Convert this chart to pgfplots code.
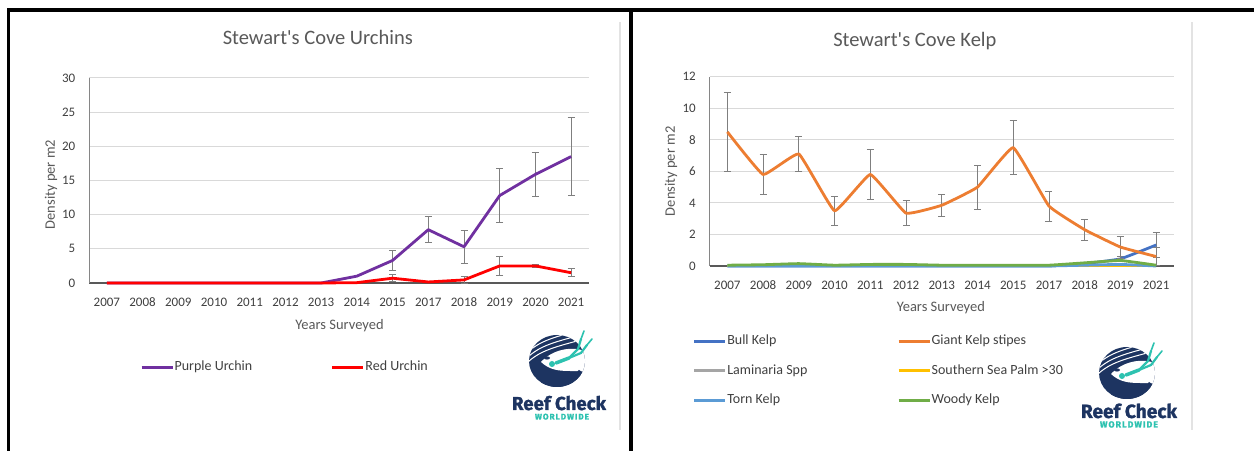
\documentclass[border=0pt]{standalone}
\usepackage{fontspec}
\setmainfont{Carlito}[Ligatures=TeXOff]
\newfontfamily\logofont{Fira Sans}[BoldFeatures={FakeBold=1.3}]
\usepackage{pgfplots}
\usepackage{pgfplotstable}
\pgfplotsset{compat=1.18}

\definecolor{purpleU}{HTML}{7030A0}
\definecolor{redU}{HTML}{FF0000}
\definecolor{bullK}{HTML}{4472C4}
\definecolor{giantK}{HTML}{ED7D31}
\definecolor{lamK}{HTML}{A5A5A5}
\definecolor{palmK}{HTML}{FFC000}
\definecolor{tornK}{HTML}{5B9BD5}
\definecolor{woodyK}{HTML}{70AD47}
\definecolor{errgray}{HTML}{7F7F7F}
\definecolor{gridgray}{HTML}{D9D9D9}
\definecolor{axisgray}{HTML}{868686}
\definecolor{xaxisgray}{HTML}{595959}
\definecolor{txtgray}{HTML}{595959}
\definecolor{tickgray}{HTML}{404040}
\definecolor{faint}{HTML}{E3E3E3}
\definecolor{rcnavy}{HTML}{1D3461}
\definecolor{rcteal}{HTML}{2DC2B0}

% Urchin densities per survey year (idx = category position)
\pgfplotstableread{
idx year purple red
0  2007 0    0
1  2008 0    0
2  2009 0    0
3  2010 0    0
4  2011 0    0
5  2012 0    0
6  2013 0    0
7  2014 1.0  0.05
8  2015 3.3  0.7
9  2017 7.8  0.15
10 2018 5.3  0.45
11 2019 12.8 2.5
12 2020 15.9 2.5
13 2021 18.5 1.5
}\urchins

\pgfplotstableread{
idx val err
8  3.3  1.4
9  7.8  1.9
10 5.3  2.4
11 12.8 4.0
12 15.9 3.2
13 18.5 5.7
}\purpleerr

\pgfplotstableread{
idx val err
8  0.7  0.5
10 0.45 0.55
11 2.5  1.35
12 2.5  0.2
13 1.5  0.6
}\rederr

% Kelp densities per survey year
\pgfplotstableread{
idx year bull giant lam palm torn woody
0  2007 0    8.5  0 0 0    0.05
1  2008 0    5.8  0 0 0    0.08
2  2009 0    7.1  0 0 0    0.15
3  2010 0    3.5  0 0 0    0.05
4  2011 0    5.8  0 0 0    0.1
5  2012 0    3.35 0 0 0    0.1
6  2013 0    3.85 0 0 0    0.05
7  2014 0    5.0  0 0 0    0.05
8  2015 0    7.5  0 0 0    0.05
9  2017 0    3.8  0 0 0    0.05
10 2018 0.15 2.3  0 0 0.05 0.2
11 2019 0.45 1.2  0 0 0.1  0.35
12 2021 1.33 0.6  0 0 0    0.05
}\kelp

\pgfplotstableread{
idx val err
0  8.5  2.5
1  5.8  1.25
2  7.1  1.1
3  3.5  0.9
4  5.8  1.6
5  3.35 0.8
6  3.85 0.7
7  5.0  1.4
8  7.5  1.7
9  3.8  0.95
10 2.3  0.65
11 1.2  0.7
12 0.6  0.55
}\gianterr

\pgfplotstableread{
idx val err
11 0.45 0.15
12 1.33 0.8
}\bullerr

\newcommand{\tickfont}{\fontsize{13bp}{15bp}\selectfont}
\newcommand{\labfont}{\fontsize{14.5bp}{17bp}\selectfont}
\newcommand{\titfont}{\fontsize{20.5bp}{24bp}\selectfont}
\newcommand{\legfont}{\fontsize{14bp}{16bp}\selectfont}

\pgfplotsset{
  rcchart/.style={
    scale only axis, anchor=south west, clip=false,
    axis x line*=bottom, axis y line*=left,
    x axis line style={draw=xaxisgray, line width=1.3bp},
    y axis line style={draw=axisgray, line width=1bp},
    major tick length=0pt,
    ymajorgrids, major grid style={draw=gridgray, line width=1bp},
    tick label style={font=\tickfont, text=tickgray},
    xticklabel style={anchor=base, inner sep=0pt, yshift=-24bp},
    yticklabel style={anchor=east, inner sep=0pt, xshift=-13.5bp},
    /pgf/number format/assume math mode=true,
    label style={font=\labfont, text=txtgray},
    xlabel style={anchor=base},
    ylabel style={anchor=center},
    title style={font=\titfont, text=txtgray, anchor=base},
    legend columns=2, legend cell align=left,
    legend style={draw=none, fill=none, inner sep=0pt, outer sep=0pt,
      anchor=west, font=\legfont, text=tickgray,
      nodes={inner xsep=0.6bp, inner ysep=0pt, text height=10bp, text depth=3bp},
      row sep=16.5bp},
    legend image code/.code={\draw[#1, line width=3bp] (0bp,0bp) -- (31bp,0bp);},
    every axis plot/.append style={line width=2.8bp, line join=round},
  },
  errstyle/.style={draw=none, forget plot,
    error bars/.cd, y dir=both, y explicit,
    error bar style={draw=errgray, line width=0.9bp, solid},
    error mark options={draw=errgray, rotate=90, mark size=3.5bp, line width=0.9bp}},
  kelpline/.style={smooth, tension=0.18},
}

% Reef Check emblem: reef disc with the diver
\tikzset{
  rcemblem/.pic={
    \begin{scope}
      \clip (0,0) ellipse [x radius=28, y radius=26];
      \fill[rcnavy] (-30,-30) rectangle (30,30);
      \fill[white] (-16,-1) .. controls (-5,11) and (14,16) .. (31,9)
        -- (31,-12) .. controls (16,-7) and (-1,-15) .. (-16,-1) -- cycle;
      \foreach \s in {0,5,10}{
        \draw[white, line width=1bp] (-30,{\s-2}) .. controls (-18,{\s+10}) and (-2,{\s+14}) .. (20,{\s+20});
      }
      \fill[rcnavy] (-16,-30) -- (-16,-14) -- (-13,-11) -- (-11,-16) -- (-6,-12)
        -- (-3,-18) -- (3,-13) -- (7,-17) -- (12,-10) -- (16,-15) -- (22,-9)
        -- (30,-14) -- (30,-30) -- cycle;
    \end{scope}
    \fill[rcteal] (-5,-3) circle (3);
    \draw[rcteal, line width=3.5bp, line cap=round] (-1,-2) -- (12,3);
    \draw[rcteal, line width=2.2bp, line cap=round, line join=round] (12,3) -- (21,12) -- (24,22);
    \draw[rcteal, line width=2.2bp, line cap=round, line join=round] (12,3) -- (24,8) -- (30,16);
    \draw[rcteal, line width=1.6bp, line cap=round] (24,22) -- (27,30) (30,16) -- (35,22);
    \fill[rcnavy] (-10,3) ellipse [x radius=3, y radius=1.6];
  }
}

\begin{document}
\begin{tikzpicture}
\begin{scope}[x=1bp,y=1bp]
  \path[use as bounding box] (0,0) rectangle (1254,451);
  \fill[white] (0,0) rectangle (1254,451);
  % chart-area edges
  \draw[faint, line width=1.2bp] (620,21) -- (620,429);
  \draw[faint, line width=1.2bp] (1192,21) -- (1192,429);
  % panel frame
  \draw[line width=3.3bp] (8.3,0) -- (8.3,441) -- (1254,441);
  \draw[line width=3.3bp] (631,0) -- (631,441);
\end{scope}

% ---------------- Urchins ----------------
\begin{axis}[rcchart,
  at={(89bp,168bp)}, width=500bp, height=205bp,
  xmin=-0.5, xmax=13.5, ymin=0, ymax=30,
  xtick={0,...,13},
  xticklabels={2007,2008,2009,2010,2011,2012,2013,2014,2015,2017,2018,2019,2020,2021},
  ytick={0,5,...,30},
  title={Stewart's Cove Urchins},
  xlabel={Years Surveyed}, ylabel={Density per m2},
  title style={at={(axis description cs:0.4576,1.132)}},
  xlabel style={at={(axis description cs:0.501,-0.226)}},
  ylabel style={at={(axis description cs:-0.076,0.48)}},
  legend style={at={(axis description cs:0.102,-0.41)},
    /tikz/every even column/.append style={column sep=78bp}},
]
\addplot[errstyle] table[x=idx, y=val, y error=err] {\purpleerr};
\addplot[color=purpleU] table[x=idx, y=purple] {\urchins};
\addlegendentry{Purple Urchin}
\addplot[errstyle] table[x=idx, y=val, y error=err] {\rederr};
\addplot[color=redU] table[x=idx, y=red] {\urchins};
\addlegendentry{Red Urchin}
\end{axis}

% ---------------- Kelp ----------------
\begin{axis}[rcchart,
  at={(709.5bp,185bp)}, width=464.5bp, height=189.3bp,
  xmin=-0.5, xmax=12.5, ymin=0, ymax=12,
  xtick={0,...,12},
  xticklabels={2007,2008,2009,2010,2011,2012,2013,2014,2015,2017,2018,2019,2021},
  ytick={0,2,...,12},
  title={Stewart's Cove Kelp},
  xlabel={Years Surveyed}, ylabel={Density per m2},
  title style={at={(axis description cs:0.442,1.13)}},
  xlabel style={at={(axis description cs:0.498,-0.243)}},
  ylabel style={at={(axis description cs:-0.083,0.5)}},
  legend style={at={(axis description cs:-0.0362,-0.553)},
    /tikz/every even column/.append style={column sep=89bp}},
]
\addplot[errstyle] table[x=idx, y=val, y error=err] {\bullerr};
\addplot[color=bullK, kelpline] table[x=idx, y=bull] {\kelp};
\addlegendentry{Bull Kelp}
\addplot[errstyle] table[x=idx, y=val, y error=err] {\gianterr};
\addplot[color=giantK, kelpline] table[x=idx, y=giant] {\kelp};
\addlegendentry{Giant Kelp stipes}
\addplot[color=lamK, kelpline] table[x=idx, y=lam] {\kelp};
\addlegendentry{Laminaria Spp}
\addplot[color=palmK, kelpline] table[x=idx, y=palm] {\kelp};
\addlegendentry{Southern Sea Palm >30}
\addplot[color=tornK, kelpline] table[x=idx, y=torn] {\kelp};
\addlegendentry{Torn Kelp}
\addplot[color=woodyK, kelpline] table[x=idx, y=woody] {\kelp};
\addlegendentry{Woody Kelp}
\end{axis}

% ---------------- Logos ----------------
\begin{scope}[x=1bp,y=1bp]
  \pic at (557,90) {rcemblem};
  \node[anchor=base, inner sep=0pt, text=rcnavy, font=\logofont\bfseries] at (559,41) {\resizebox{94bp}{!}{Reef Check}};
  \node[anchor=base, inner sep=0pt, text=rcteal, font=\logofont\bfseries] at (562,31.5) {\resizebox{54bp}{!}{\addfontfeatures{LetterSpace=12}WORLDWIDE}};
  \pic at (1127,78) {rcemblem};
  \node[anchor=base, inner sep=0pt, text=rcnavy, font=\logofont\bfseries] at (1129,33) {\resizebox{96bp}{!}{Reef Check}};
  \node[anchor=base, inner sep=0pt, text=rcteal, font=\logofont\bfseries] at (1129,23.5) {\resizebox{58bp}{!}{\addfontfeatures{LetterSpace=12}WORLDWIDE}};
\end{scope}
\end{tikzpicture}
\end{document}
